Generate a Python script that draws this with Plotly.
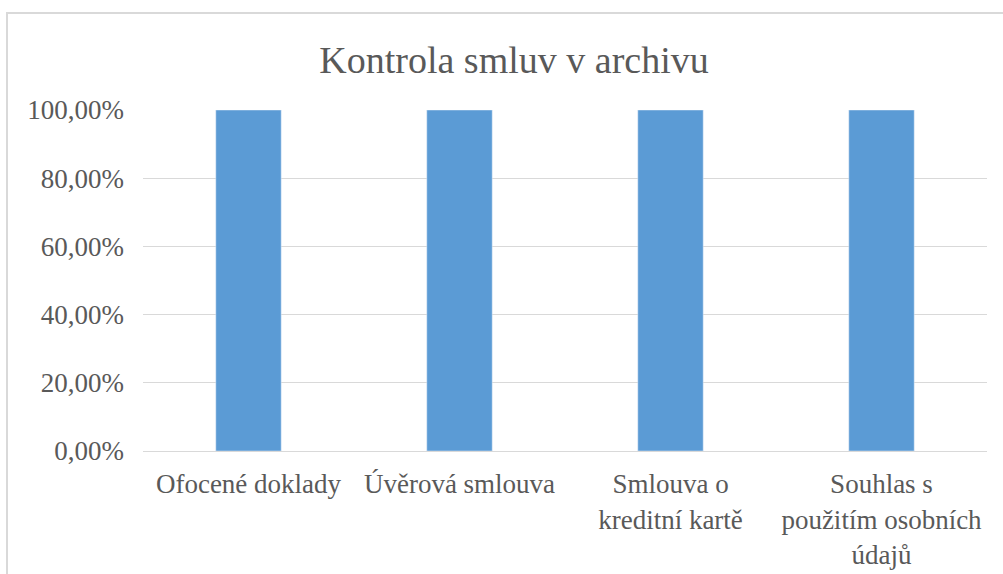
import plotly.graph_objects as go

categories = ["Ofocené doklady", "Úvěrová smlouva", "Smlouva o<br>kreditní kartě",
              "Souhlas s<br>použitím osobních<br>údajů"]
values = [1.0, 1.0, 1.0, 1.0]
y_ticks = [0, 0.2, 0.4, 0.6, 0.8, 1.0]

W, H = 1003, 574
L, R, T, B = 143, 16, 110, 123
pw, ph = W - L - R, H - T - B
FONT = "Liberation Serif"

fig = go.Figure(go.Bar(x=categories, y=values, marker_color="#5B9BD5", width=0.31))

fig.update_layout(
    width=W, height=H,
    margin=dict(l=L, r=R, t=T, b=B, autoexpand=False),
    paper_bgcolor="white", plot_bgcolor="white",
    separators=", ",
    font=dict(family=FONT, color="#595959", size=27),
    title=dict(text="Kontrola smluv v archivu", x=514 / W, xref="container", xanchor="center",
               y=1 - 60 / H, yanchor="middle",
               font=dict(family=FONT, size=38, color="#595959")),
    showlegend=False,
)
fig.update_yaxes(range=[0, 1], tickvals=y_ticks, tickformat=".2%",
                 showgrid=True, gridcolor="#D9D9D9", gridwidth=1,
                 zeroline=False, showline=False, ticks="", ticklen=0,
                 ticklabelstandoff=18, automargin=False,
                 tickfont=dict(family=FONT, size=27))
fig.update_xaxes(showgrid=False, showline=True, linecolor="#D9D9D9", linewidth=1,
                 ticks="", tickangle=0, ticklabelstandoff=9, automargin=False,
                 tickfont=dict(family=FONT, size=27))
fig.add_shape(type="rect", xref="paper", yref="paper",
              x0=(7 - L) / pw, x1=(1015 - L) / pw,
              y0=-(590 - (H - B)) / ph, y1=1 + (T - 13) / ph,
              line=dict(color="#D9D9D9", width=2), fillcolor="rgba(0,0,0,0)", layer="below")

fig.write_html("out.html", config={"displayModeBar": False})

with open("out.html", encoding="utf-8") as f:
    html = f.read()
html = html.replace("<head>", "<head><style>html,body{margin:0;padding:0;}</style>", 1)
with open("out.html", "w", encoding="utf-8") as f:
    f.write(html)
